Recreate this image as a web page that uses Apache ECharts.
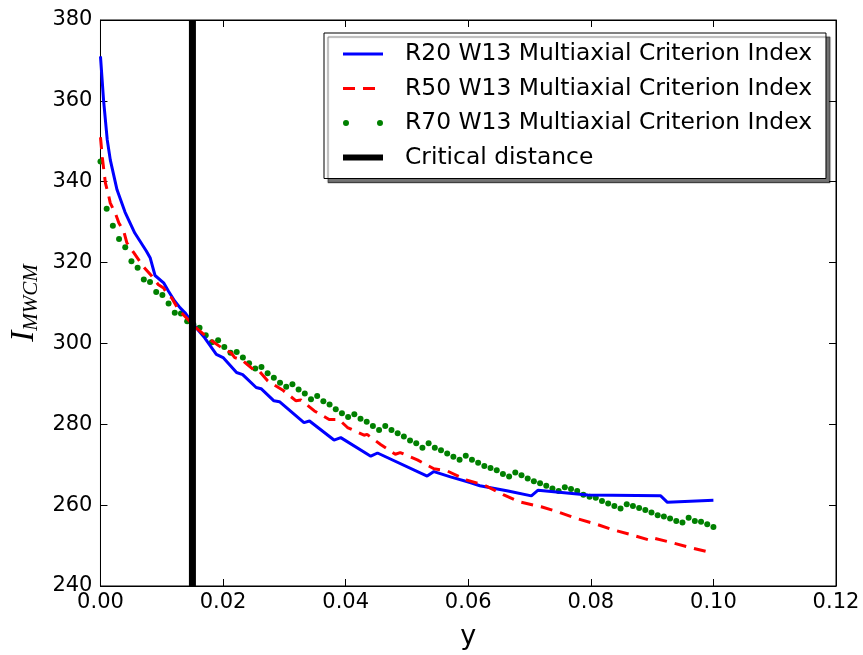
<!DOCTYPE html>
<html>
<head>
<meta charset="utf-8">
<script src="https://cdn.jsdelivr.net/npm/echarts@6/dist/echarts.min.js"></script>
<style>html,body{margin:0;padding:0;background:#fff}#c{width:863px;height:655px}</style>
</head>
<body>
<div id="c"></div>
<script>
// ---- data ----
const seriesNames = [
  'R20 W13 Multiaxial Criterion Index',
  'R50 W13 Multiaxial Criterion Index',
  'R70 W13 Multiaxial Criterion Index',
  'Critical distance'
];
// R20: [y, I] vertices
const r20 = [
  [0, 371], [0.0005, 360.2], [0.0011, 350.4], [0.0016, 345.4], [0.0027, 338],
  [0.004, 332.5], [0.0056, 327.3], [0.0075, 322.8], [0.0081, 321.2], [0.0089, 316.8],
  [0.0103, 315], [0.0111, 312.9], [0.0121, 310.5], [0.013, 308.8], [0.0138, 307.6],
  [0.0151, 304.8], [0.017, 301.4], [0.0189, 297.3], [0.02, 296.5], [0.0222, 292.8],
  [0.0232, 292.3], [0.0254, 289.1], [0.0262, 288.8], [0.0283, 285.8], [0.0292, 285.6],
  [0.0332, 280.4], [0.0341, 280.8], [0.0381, 276.1], [0.0392, 276.7], [0.0441, 272.1],
  [0.0452, 272.9], [0.0533, 267.2], [0.0544, 268.3], [0.0571, 267.0], [0.0603, 265.6],
  [0.0619, 264.8], [0.0665, 263.5], [0.0703, 262.3], [0.0714, 263.7], [0.0795, 262.5],
  [0.0914, 262.3], [0.0925, 260.7], [0.1, 261.2]
];
// R50: [y, I] vertices
const r50 = [
  [0, 351], [0.0003, 346], [0.0008, 339.7], [0.0013, 336.8], [0.0016, 334.7],
  [0.0024, 332.3], [0.003, 329.8], [0.0038, 327.7], [0.0043, 324.9], [0.0054, 322.5],
  [0.007, 319], [0.0084, 316.6], [0.0094, 314.6], [0.0103, 313.7], [0.0111, 311.7],
  [0.0116, 311.3], [0.0127, 308.4], [0.0132, 307.6], [0.0143, 305.9], [0.0154, 304.1],
  [0.0178, 301], [0.0197, 299], [0.0213, 297.7], [0.0219, 296.5], [0.023, 296],
  [0.0249, 293.6], [0.0257, 293.5], [0.0273, 290.7], [0.0297, 288.5], [0.0319, 285.8],
  [0.0327, 286], [0.0349, 283.3], [0.0373, 281.2], [0.0389, 281.2], [0.0403, 279.2],
  [0.043, 277.3], [0.0435, 277.5], [0.0457, 275], [0.0481, 272.6], [0.0489, 273],
  [0.0517, 271.2], [0.0544, 269], [0.0565, 268.5], [0.0598, 266.2], [0.0627, 264.9],
  [0.0657, 262.6], [0.0684, 260.8], [0.0719, 259.6], [0.0749, 258.2], [0.0779, 256.6],
  [0.0809, 255.3], [0.0836, 253.9], [0.0863, 252.8], [0.0895, 251.4], [0.0901, 251.9],
  [0.0928, 250.9], [0.096, 249.6], [0.1, 248.1]
];
// R70: 100 samples on an even grid from 0 to 0.1
const r70 = [
  345, 333.3, 329.1, 325.8, 323.8, 320.3, 318.7, 315.8, 315.2, 312.7,
  312, 309.9, 307.6, 307.4, 305.5, 304.7, 303.9, 302, 300.3, 300.8,
  299.1, 297.7, 297.9, 296.5, 295.1, 293.8, 294.2, 292.6, 291.5, 290.3,
  289.3, 289.9, 288.6, 287.6, 286.2, 287, 285.7, 284.9, 283.7, 282.7,
  281.8, 282.5, 281.4, 280.6, 279.6, 278.6, 279.6, 278.6, 277.8, 277,
  276, 275.3, 274.2, 275.3, 274.2, 273.6, 272.8, 272.0, 271.2, 272.2,
  271.2, 270.5, 269.7, 269.2, 268.6, 267.7, 267.1, 268.1, 267.4, 266.6,
  265.9, 265.4, 264.8, 264.1, 263.5, 264.4, 264, 263.5, 262.6, 262.1,
  261.8, 261, 260.4, 259.8, 259.2, 260.2, 259.8, 259.3, 258.8, 258.2,
  257.5, 257.2, 256.7, 256.1, 255.7, 256.9, 256.1, 255.9, 255.3, 254.6
];
const r70Start = 0, r70End = 0.1;
const criticalDistance = 0.015;
const xTicks = [0, 0.02, 0.04, 0.06, 0.08, 0.10, 0.12];
const yTicks = [240, 260, 280, 300, 320, 340, 360, 380];

// ---- build ----
const r70Data = r70.map((v, i) => [r70Start + i * (r70End - r70Start) / (r70.length - 1), v]);
const critData = [[criticalDistance, yTicks[0]], [criticalDistance, yTicks[yTicks.length - 1]]];

const FONT = 'DejaVu Sans';
const chart = echarts.init(document.getElementById('c'), null, {renderer: 'canvas'});
const tickStyle = {show: true, inside: true, length: 7, lineStyle: {color: '#000', width: 1}};
const baseX = {
  type: 'value', min: xTicks[0], max: xTicks[xTicks.length - 1], interval: 0.02,
  splitLine: {show: false}, axisLine: {show: true, onZero: false, lineStyle: {color: '#000', width: 1}},
  axisTick: tickStyle
};
const baseY = {
  type: 'value', min: yTicks[0], max: yTicks[yTicks.length - 1], interval: 20,
  splitLine: {show: false}, axisLine: {show: true, onZero: false, lineStyle: {color: '#000', width: 1}},
  axisTick: tickStyle
};
const hiddenSymbol = {color: 'rgba(0,0,0,0)', borderWidth: 0, opacity: 0};

chart.setOption({
  animation: false,
  backgroundColor: '#fff',
  grid: {left: 98, right: 27, top: 20, bottom: 68, show: true, borderColor: '#000', borderWidth: 1},
  xAxis: [
    Object.assign({}, baseX, {
      position: 'bottom',
      axisLabel: {formatter: v => v.toFixed(2), fontSize: 21, color: '#000', fontFamily: FONT, margin: 6},
      name: 'y', nameLocation: 'middle', nameGap: 37,
      nameTextStyle: {fontSize: 27, color: '#000', fontFamily: FONT}
    }),
    Object.assign({}, baseX, {position: 'top', axisLabel: {show: false}})
  ],
  yAxis: [
    Object.assign({}, baseY, {
      position: 'left',
      axisLabel: {fontSize: 21, color: '#000', fontFamily: FONT, margin: 8},
      name: '{i|I}{s|MWCM}', nameLocation: 'middle', nameRotate: 90, nameGap: 56,
      nameTextStyle: {
        color: '#000',
        rich: {
          i: {fontSize: 33, fontFamily: 'Liberation Serif', fontStyle: 'italic', color: '#000', lineHeight: 34},
          s: {fontSize: 21, fontFamily: 'Liberation Serif', fontStyle: 'italic', color: '#000', verticalAlign: 'bottom', lineHeight: 34}
        }
      }
    }),
    Object.assign({}, baseY, {position: 'right', axisLabel: {show: false}})
  ],
  legend: {
    orient: 'vertical', left: 324, top: 33,
    padding: [9, 14, 9, 16],
    itemWidth: 40, itemHeight: 6, itemGap: 10.5,
    backgroundColor: '#fff', borderColor: '#000', borderWidth: 1,
    shadowColor: 'rgba(0,0,0,0.55)', shadowBlur: 1, shadowOffsetX: 4, shadowOffsetY: 4,
    selectedMode: false,
    textStyle: {fontSize: 23.4, fontFamily: FONT, color: '#000', lineHeight: 24, padding: [0, 0, 0, 17]},
    data: [
      {name: seriesNames[0], lineStyle: {width: 3}, itemStyle: hiddenSymbol},
      {name: seriesNames[1], lineStyle: {width: 3}, itemStyle: hiddenSymbol},
      {name: seriesNames[2], icon: 'path://M0,3a3,3 0 1,0 6,0a3,3 0 1,0 -6,0zM34,3a3,3 0 1,0 6,0a3,3 0 1,0 -6,0z'},
      {name: seriesNames[3], lineStyle: {width: 6}, itemStyle: hiddenSymbol}
    ]
  },
  series: [
    {name: seriesNames[0], type: 'line', data: r20, symbol: 'none', color: '#0000ff',
     lineStyle: {color: '#0000ff', width: 3}, silent: true},
    {name: seriesNames[1], type: 'line', data: r50, symbol: 'none', color: '#ff0000',
     lineStyle: {color: '#ff0000', width: 3, type: [12, 8]}, silent: true},
    {name: seriesNames[2], type: 'scatter', data: r70Data, symbol: 'circle', symbolSize: 6,
     itemStyle: {color: '#008000', opacity: 1}, color: '#008000', silent: true},
    {name: seriesNames[3], type: 'line', data: critData, symbol: 'none', color: '#000',
     lineStyle: {color: '#000', width: 7}, silent: true, clip: true}
  ]
});
</script>
</body>
</html>
